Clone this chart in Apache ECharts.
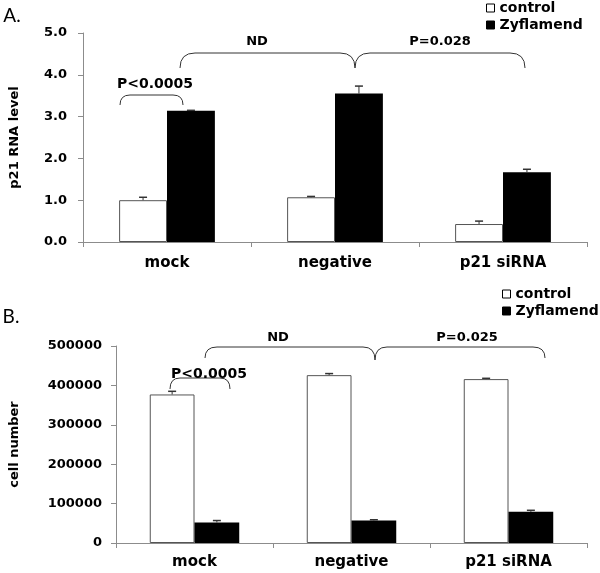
<!DOCTYPE html>
<html><head><meta charset="utf-8">
<script src="https://cdn.jsdelivr.net/npm/echarts@6/dist/echarts.min.js"></script>
<style>html,body{margin:0;padding:0;background:#fff}#c{width:600px;height:573px}</style>
</head><body><div id="c"></div>
<script>
const categories = ['mock', 'negative', 'p21 siRNA'];
const seriesNames = ['control', 'Zyflamend'];
// Panel A: p21 RNA level
const rnaControl = [1.0, 1.07, 0.43];
const rnaControlErr = [0.07, 0.02, 0.07];
const rnaZyf = [3.14, 3.55, 1.67];
const rnaZyfErr = [0.01, 0.18, 0.07];
const rnaTicks = ['0.0', '1.0', '2.0', '3.0', '4.0', '5.0'];
// Panel B: cell number
const cellControl = [377000, 426000, 416000];
const cellControlErr = [8000, 4000, 2000];
const cellZyf = [52000, 57000, 79000];
const cellZyfErr = [5000, 2000, 4000];
const cellTicks = ['0', '100000', '200000', '300000', '400000', '500000'];

const FONT = 'DejaVu Sans';
const CAT_GAP = 0.43;
const barFrac = (1 - CAT_GAP) / 2;

function errSeries(name, vals, errs, idx, grid) {
  return {
    type: 'custom', name: name + ' err', xAxisIndex: grid, yAxisIndex: grid, z: 5, silent: true,
    data: vals.map((v, i) => [i, v, errs[i]]),
    renderItem: function (params, api) {
      const i = api.value(0), v = api.value(1), e = api.value(2);
      const band = api.size([1, 0])[0];
      const off = (idx === 0 ? -0.5 : 0.5) * barFrac * band;
      const p0 = api.coord([i, v]);
      const p1 = api.coord([i, v + e]);
      const x = p0[0] + off;
      return {
        type: 'group', children: [
          { type: 'line', shape: { x1: x, y1: p0[1], x2: x, y2: p1[1] }, style: { stroke: '#333', lineWidth: 1 } },
          { type: 'line', shape: { x1: x - 4, y1: p1[1], x2: x + 4, y2: p1[1] }, style: { stroke: '#333', lineWidth: 1.5 } }
        ]
      };
    }
  };
}

function barSeries(name, vals, grid) {
  const isCtrl = name === 'control';
  return {
    type: 'bar', name: name, xAxisIndex: grid, yAxisIndex: grid, data: vals,
    barGap: '0%', barCategoryGap: (CAT_GAP * 100) + '%',
    itemStyle: isCtrl ? { color: '#fff', borderColor: '#555', borderWidth: 1 } : { color: '#000', borderColor: '#000', borderWidth: 0 },
    silent: true
  };
}

const axisCommon = {
  axisLine: { show: true, lineStyle: { color: '#8c8c8c', width: 1 } },
  axisTick: { show: true, length: 5, lineStyle: { color: '#8c8c8c' } },
  splitLine: { show: false }
};

function xAxis(grid, margin) {
  return Object.assign({}, axisCommon, {
    type: 'category', gridIndex: grid, data: categories,
    axisTick: { show: true, length: 5, alignWithLabel: false, lineStyle: { color: '#8c8c8c' } },
    axisLabel: { margin: margin, fontFamily: FONT, fontWeight: 'bold', fontSize: 15, color: '#000' }
  });
}

function yAxis(grid, max, interval, ticks, name, nameGap, margin) {
  return Object.assign({}, axisCommon, {
    type: 'value', gridIndex: grid, min: 0, max: max, interval: interval,
    name: name, nameLocation: 'middle', nameGap: nameGap, nameRotate: 90,
    nameTextStyle: { fontFamily: FONT, fontWeight: 'bold', fontSize: 13, color: '#000' },
    axisLabel: {
      margin: margin, fontFamily: FONT, fontWeight: 'bold', fontSize: 13, color: '#000',
      formatter: function (v) { return ticks[Math.round(v / interval)]; }
    }
  });
}

function legend(left, top) {
  return {
    left: left, top: top, orient: 'vertical', padding: 0, itemWidth: 8, itemHeight: 8, itemGap: 3, itemTextGap: 3,
    selectedMode: false, icon: 'rect',
    textStyle: { fontFamily: FONT, fontWeight: 'bold', fontSize: 14, color: '#000' },
    data: [
      { name: seriesNames[0], itemStyle: { color: '#fff', borderColor: '#000', borderWidth: 1 } },
      { name: seriesNames[1], itemStyle: { color: '#000', borderColor: '#000', borderWidth: 1 } }
    ]
  };
}

const txt = (x, y, s, size, font, weight) => ({
  type: 'text', x: x, y: y, silent: true,
  style: { text: s, fontFamily: font || FONT, fontWeight: weight || 'bold', fontSize: size || 13, fill: '#000', align: 'center', verticalAlign: 'middle' }
});
const LS = { stroke: '#333', lineWidth: 1, fill: null };
const seg = (x1, y1, x2, y2) => ({ type: 'line', silent: true, shape: { x1, y1, x2, y2 }, style: LS });
const curve = (x1, y1, cx, cy, x2, y2) => ({ type: 'bezierCurve', silent: true, shape: { x1, y1, cpx1: cx, cpy1: cy, x2, y2 }, style: LS });
function bracket(x0, x1, yTop, yEnd, r) {
  return [curve(x0, yEnd, x0, yTop, x0 + r, yTop), seg(x0 + r, yTop, x1 - r, yTop), curve(x1 - r, yTop, x1, yTop, x1, yEnd)];
}
function brace(x0, xm, x1, yTop, yEnd, yCusp, r) {
  return [
    curve(x0, yEnd, x0, yTop, x0 + r, yTop), seg(x0 + r, yTop, xm - r, yTop),
    curve(xm - r, yTop, xm, yTop, xm, yCusp), curve(xm, yCusp, xm, yTop, xm + r, yTop),
    seg(xm + r, yTop, x1 - r, yTop), curve(x1 - r, yTop, x1, yTop, x1, yEnd)
  ];
}

const option = {
  animation: false,
  grid: [
    { left: 77, right: 13, top: 33, bottom: 331, containLabel: false },
    { left: 114, right: 13, top: 346, bottom: 30, containLabel: false }
  ],
  legend: [legend(486, 1), legend(502, 287)],
  xAxis: [xAxis(0, 14), xAxis(1, 12)],
  yAxis: [
    yAxis(0, 5, 1, rnaTicks, 'p21 RNA level', 62, 16),
    yAxis(1, 500000, 100000, cellTicks, 'cell number', 95, 14)
  ],
  series: [
    barSeries('control', rnaControl, 0),
    barSeries('Zyflamend', rnaZyf, 0),
    errSeries('control', rnaControl, rnaControlErr, 0, 0),
    errSeries('Zyflamend', rnaZyf, rnaZyfErr, 1, 0),
    barSeries('control', cellControl, 1),
    barSeries('Zyflamend', cellZyf, 1),
    errSeries('control', cellControl, cellControlErr, 0, 1),
    errSeries('Zyflamend', cellZyf, cellZyfErr, 1, 1)
  ],
  graphic: [].concat(
    [txt(12, 16, 'A.', 19, 'Lato', 'normal'), txt(11, 317, 'B.', 19, 'Lato', 'normal')],
    bracket(120, 183, 95, 105, 10),
    [txt(155, 84, 'P<0.0005', 14)],
    brace(180, 355, 525, 53, 68, 68, 15),
    [txt(257, 42, 'ND', 13), txt(440, 42, 'P=0.028', 13)],
    bracket(170, 230, 378, 389, 10),
    [txt(209, 374, 'P<0.0005', 14)],
    brace(205, 375, 545, 347, 358, 360, 12),
    [txt(278, 338, 'ND', 13), txt(467, 338, 'P=0.025', 13)]
  )
};

const chart = echarts.init(document.getElementById('c'), null, { renderer: 'canvas' });
chart.setOption(option);
</script>
</body></html>
